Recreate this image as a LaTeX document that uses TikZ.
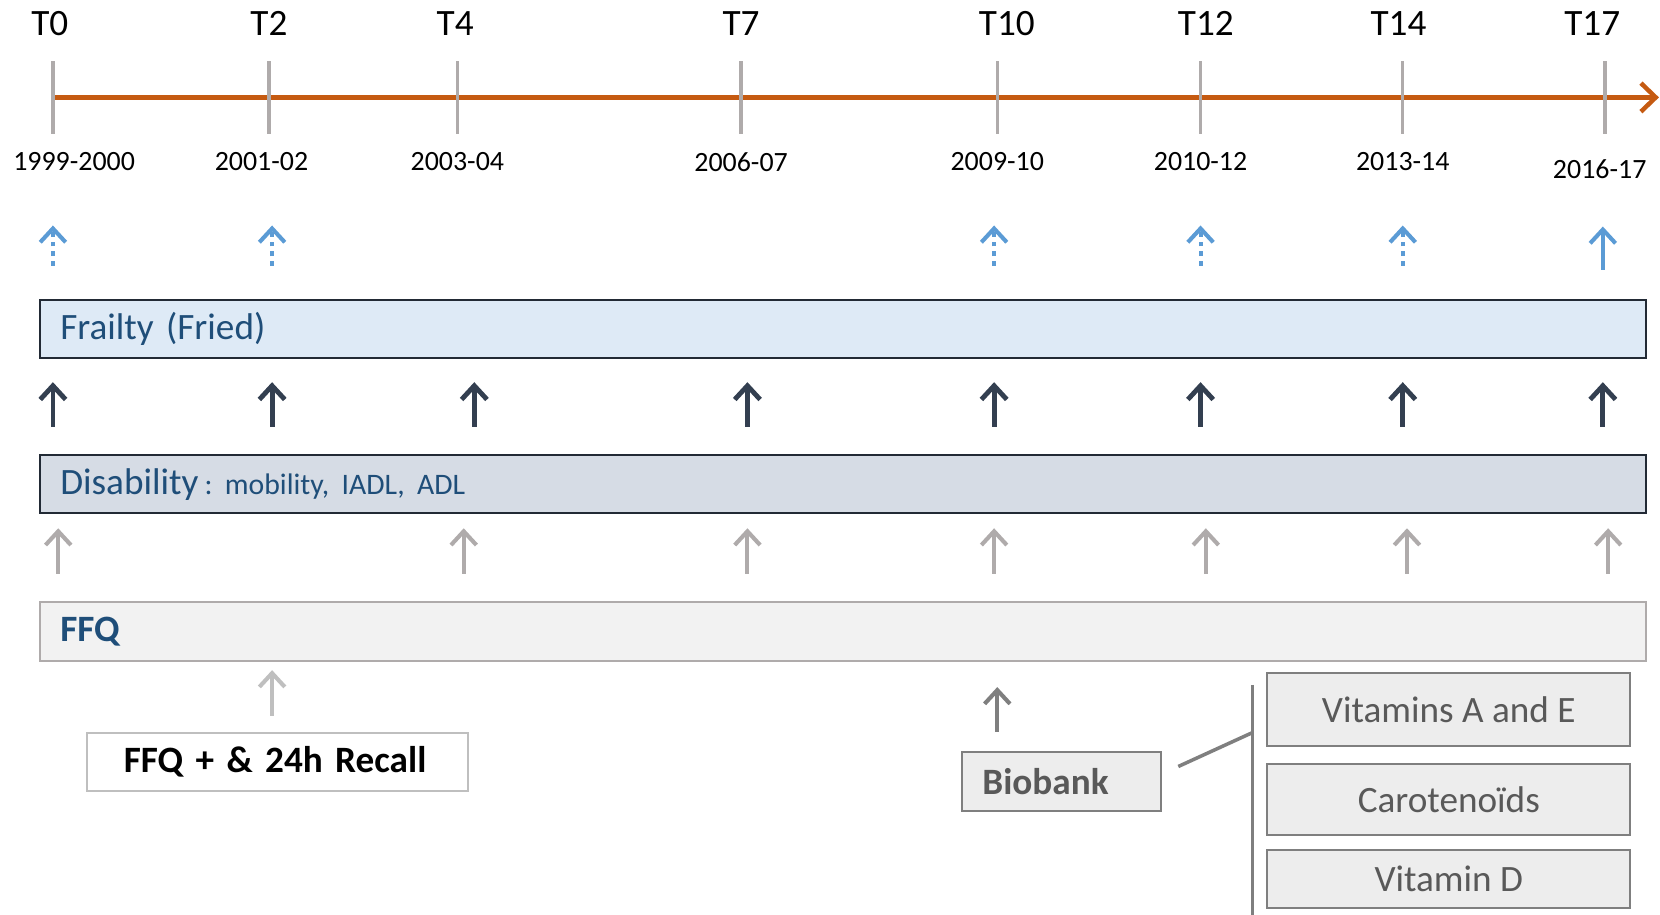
\documentclass[tikz,border=0pt]{standalone}
\usepackage{fontspec}
\setmainfont{Carlito}
\usetikzlibrary{arrows.meta,positioning}
\frenchspacing

\definecolor{axisorange}{HTML}{C55A11}
\definecolor{tickgray}{HTML}{AFABAB}
\definecolor{lightgray}{HTML}{BFBFBF}
\definecolor{midgray}{HTML}{7F7F7F}
\definecolor{frailblue}{HTML}{5B9BD5}
\definecolor{darknavy}{HTML}{333F50}
\definecolor{textblue}{HTML}{1F4E79}
\definecolor{frailfill}{HTML}{DEEAF6}
\definecolor{disfill}{HTML}{D6DCE5}
\definecolor{bandedge}{HTML}{222A35}
\definecolor{ffqfill}{HTML}{F2F2F2}
\definecolor{biofill}{HTML}{EDEDED}
\definecolor{biotext}{HTML}{595959}

\tikzset{
  bigtext/.style={font=\fontsize{20}{24}\selectfont},
  yeartext/.style={font=\fontsize{15}{18}\selectfont},
  band/.style={rectangle, anchor=north west, line width=1.1pt, inner ysep=0pt,
    minimum height=1.1cm, inner xsep=0.38cm, text width=29.58cm, align=left, bigtext},
  upbarb/.style={-{Straight Barb[length=2.6mm,width=4.8mm]}},
  biobox/.style={rectangle, draw=midgray, fill=biofill, line width=1.1pt,
    text=biotext, bigtext, minimum width=6.86cm}
}

\begin{document}
\begin{tikzpicture}[x=0.02cm, y=-0.02cm]
\useasboundingbox (0,0) rectangle (1568,864);

% time axis
    \draw[axisorange, line width=2.4pt, -{Straight Barb[length=2.8mm,width=5.4mm]}] (50,92) -- (1567,92);
% ticks, waves and years
    \foreach \tx/\lx/\t/\yx/\yy/\yr in {50/47/T0/70/153/1999-2000, 254/254/T2/247/153/2001-02,
        432/430/T4/432/153/2003-04, 700/700/T7/700/153/2006-07, 942/951/T10/942/153/2009-10,
        1134/1139/T12/1134/153/2010-12, 1325/1321/T14/1325/153/2013-14, 1516/1504/T17/1511/160/2016-17}{
      \draw[tickgray, line width=1.8pt] (\tx,58) -- (\tx,127);
      \node[bigtext] (wave\t) at (\lx,22) {\t};
      \node[yeartext] (year\t) at (\yx,\yy) {\yr};
    }

% frailty
    \foreach \x in {50,257,939,1134,1325}
      \draw[frailblue, line width=2.2pt, dash pattern=on 2.6pt off 2.6pt, upbarb] (\x,251) -- (\x,213);
    \draw[frailblue, line width=2.2pt, upbarb] (1514,255) -- (1514,214);
    \node[band, draw=bandedge, fill=frailfill, text=textblue] (frailty) at (37,282) {Frailty (Fried)};

% disability
    \foreach \x in {50,257,448,706,939,1134,1325,1514}
      \draw[darknavy, line width=2.6pt, upbarb] (\x,403) -- (\x,361);
    \node[band, draw=bandedge, fill=disfill, text=textblue] (disability) at (37,429)
      {Disability{\fontsize{16}{19}\selectfont\hspace{0.2em}: mobility, IADL, ADL}};

% food frequency
    \foreach \x in {55,438,706,939,1139,1329,1519}
      \draw[tickgray, line width=2.2pt, upbarb] (\x,542) -- (\x,499);
    \node[band, draw=tickgray, fill=ffqfill, text=textblue, font=\fontsize{20}{24}\selectfont\bfseries]
      (ffq) at (37,568) {FFQ};

    \draw[lightgray, line width=2.2pt, upbarb] (257,676) -- (257,633);
    \node[rectangle, draw=lightgray, line width=1.1pt, anchor=north west, minimum height=1.1cm,
      inner xsep=0.7cm, text width=5.8cm, align=left, font=\fontsize{20}{24}\selectfont\bfseries]
      (recall) at (81,691) {FFQ + \& 24h Recall};

% biobank
    \draw[midgray, line width=2.2pt, upbarb] (942,691) -- (942,649);
    \node[rectangle, draw=midgray, fill=biofill, line width=1.1pt, anchor=north west,
      minimum height=1.12cm, inner xsep=0.38cm, text width=3.0cm, align=left, text=biotext,
      font=\fontsize{20}{24}\selectfont\bfseries] (biobank) at (908,709) {Biobank};

    \coordinate (bustop) at (1183,647);
    \coordinate (busmid) at (1183,692);
    \coordinate (busend) at (1183,864);
    \coordinate (biolink) at (1113,724);
    \draw[midgray, line width=1.9pt] (bustop) -- (busend);
    \draw[midgray, line width=1.9pt] (biolink) -- (busmid);

    \node[biobox, minimum height=1.38cm] (vitae) at (1368.5,670.5) {Vitamins A and E};
    \node[biobox, minimum height=1.34cm] (carot) at (1368.5,755.5) {Carotenoïds};
    \node[biobox, minimum height=1.1cm] (vitd) at (1368.5,830.5) {Vitamin D};

\end{tikzpicture}
\end{document}
